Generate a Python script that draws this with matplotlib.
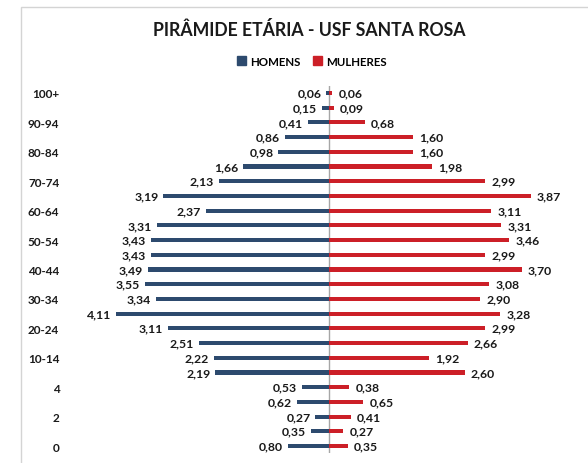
import numpy as np
import matplotlib
matplotlib.use("Agg")
import matplotlib.pyplot as plt
from matplotlib.patches import Patch, Rectangle

plt.rcParams["font.family"] = ["Lato", "DejaVu Sans"]

# Faixas etarias de baixo (0) para cima (100+)
faixas = ["0", "1", "2", "3", "4", "5-9", "10-14", "15-19", "20-24", "25-29",
          "30-34", "35-39", "40-44", "45-49", "50-54", "55-59", "60-64",
          "65-69", "70-74", "75-79", "80-84", "85-89", "90-94", "95-99", "100+"]
homens = [0.80, 0.35, 0.27, 0.62, 0.53, 2.19, 2.22, 2.51, 3.11, 4.11, 3.34,
          3.55, 3.49, 3.43, 3.43, 3.31, 2.37, 3.19, 2.13, 1.66, 0.98, 0.86,
          0.41, 0.15, 0.06]
mulheres = [0.35, 0.27, 0.41, 0.65, 0.38, 2.60, 1.92, 2.66, 2.99, 3.28, 2.90,
            3.08, 3.70, 2.99, 3.46, 3.31, 3.11, 3.87, 2.99, 1.98, 1.60, 1.60,
            0.68, 0.09, 0.06]

AZUL = "#2D4A6E"
VERMELHO = "#CC1F27"
TXT = "#1A1A1A"

fig = plt.figure(figsize=(5.88, 4.64), dpi=100)

# moldura do grafico (cortada a direita e embaixo)
fig.patches.append(Rectangle((21 / 588, -0.1), 1.0, (464 - 8) / 464 + 0.1,
                             transform=fig.transFigure, fill=False,
                             edgecolor="#D4D4D4", lw=1.0))

ax = fig.add_axes([69.3 / 588, 0.0207, 520 / 588, 0.7927])
y = np.arange(len(faixas))
h = -np.array(homens)
m = np.array(mulheres)

bh = ax.barh(y, h, height=0.28, color=AZUL)
bm = ax.barh(y, m, height=0.28, color=VERMELHO)

fmt = lambda v: f"{abs(v):.2f}".replace(".", ",")
ax.bar_label(bh, labels=[fmt(v) for v in h], padding=3.5, fontsize=8.8,
             fontweight="bold", color=TXT)
ax.bar_label(bm, labels=[fmt(v) for v in m], padding=4.5, fontsize=8.8,
             fontweight="bold", color=TXT)

ax.axvline(0, color="#A6A6A6", lw=1.0, zorder=0)
ax.set_xlim(-5, 5)
ax.set_ylim(-0.5, len(faixas) - 0.5)
ax.set_xticks([])
ax.set_yticks(y[::2])
ax.set_yticklabels(faixas[::2], fontsize=8.5, fontweight="bold", color=TXT)
ax.tick_params(axis="y", length=0, pad=7.2)
for s in ax.spines.values():
    s.set_visible(False)

fig.text(309.7 / 588, 1 - 30 / 464, "PIRÂMIDE ETÁRIA - USF SANTA ROSA",
         ha="center", va="center", fontsize=12.7, fontweight="bold",
         color=TXT)

handles = [Patch(color=AZUL, label="HOMENS"),
           Patch(color=VERMELHO, label="MULHERES")]
fig.legend(handles=handles, loc="center", bbox_to_anchor=(312 / 588, 1 - 62 / 464),
           ncol=2, frameon=False, handlelength=0.75, handleheight=0.75,
           handletextpad=0.35, columnspacing=1.1,
           prop={"size": 8.3, "weight": "bold"})

fig.savefig("out.png", dpi=100, facecolor="white")
